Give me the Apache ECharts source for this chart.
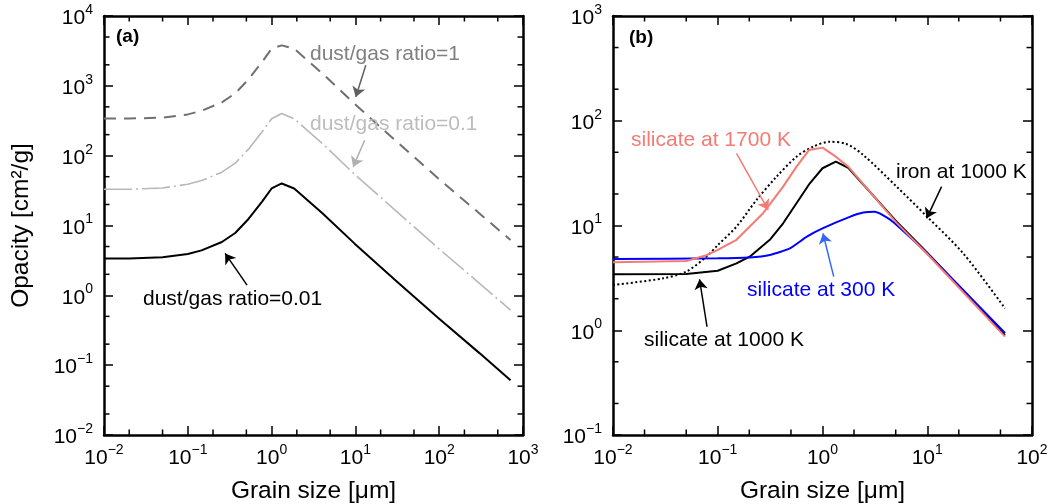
<!DOCTYPE html>
<html>
<head>
<meta charset="utf-8">
<script src="https://cdn.jsdelivr.net/npm/echarts@6/dist/echarts.min.js"></script>
<style>
  html, body { margin: 0; padding: 0; background: #fff; }
  #chart { width: 1053px; height: 504px; }
</style>
</head>
<body>
<div id="chart"></div>
<script>
// panel (a): opacity vs grain size for three dust/gas ratios
const sizeA = [0.01, 0.02, 0.05, 0.1, 0.146, 0.255, 0.368, 0.533, 0.77, 1.0, 1.32, 1.86, 4.07, 9.8, 30, 96, 300, 710];
const ratio001 = [3.37, 3.37, 3.5, 3.9, 4.4, 5.8, 7.8, 12.5, 22, 33.9, 40, 33.9, 14.9, 5.5, 1.65, 0.48, 0.15, 0.061];
const ratio01 = [33, 33, 34.5, 39, 44, 58, 78, 125, 220, 338, 401, 338, 148, 54, 16.5, 4.8, 1.5, 0.615];
const ratio1 = [340, 340, 350, 390, 440, 580, 780, 1250, 2200, 3400, 3800, 3400, 1490, 550, 165, 48, 15, 6.2];

// panel (b): silicate at three temperatures and iron
const sizeSil1000 = [0.01, 0.05, 0.1, 0.151, 0.202, 0.314, 0.421, 0.757, 1.0, 1.34, 1.76, 5.1, 10, 55.2];
const sil1000 = [3.42, 3.44, 3.7, 4.35, 5.04, 7.3, 10.5, 25.3, 35.2, 40.7, 35.6, 10.9, 5.5, 0.9];
const sizeSil1700 = [0.01, 0.05, 0.078, 0.1, 0.151, 0.271, 0.421, 0.565, 0.746, 1.0, 1.34, 1.76, 5.1, 10, 55.2];
const sil1700 = [4.45, 4.58, 5.2, 5.84, 7.3, 13.1, 23.5, 36.5, 52.6, 55.4, 45.4, 36.5, 10.6, 5.35, 0.87];
const sizeSil300 = [0.01, 0.1, 0.202, 0.314, 0.488, 0.703, 1.0, 1.82, 2.45, 3.16, 4.24, 5.1, 10, 55.2];
const sil300 = [4.79, 4.86, 4.96, 5.23, 6.05, 7.8, 9.4, 12.1, 13.3, 13.5, 11.7, 10.1, 5.4, 0.94];
const sizeIron = [0.01, 0.03, 0.05, 0.078, 0.1, 0.151, 0.234, 0.364, 0.565, 0.815, 1.17, 1.69, 2.45, 5.1, 10, 22.1, 55.2];
const iron1000 = [2.7, 3.13, 3.63, 5.04, 6.5, 9.75, 17.5, 29.2, 45.4, 56.6, 63, 60, 47.1, 23.5, 12.1, 5.4, 1.62];

// axis ranges and minor ticks (2 and 5 in each decade)
const rangeXA = [0.01, 1000], rangeYA = [0.01, 10000];
const rangeXB = [0.01, 100], rangeYB = [0.1, 1000];
const minorXA = [0.02, 0.05, 0.2, 0.5, 2, 5, 20, 50, 200, 500];
const minorYA = [0.02, 0.05, 0.2, 0.5, 2, 5, 20, 50, 200, 500, 2000, 5000];
const minorXB = [0.02, 0.05, 0.2, 0.5, 2, 5, 20, 50];
const minorYB = [0.2, 0.5, 2, 5, 20, 50, 200, 500];

const F = '"Liberation Sans", Arial, Helvetica, sans-serif';
const pair = (xs, ys) => xs.map((x, i) => [x, ys[i]]);
const expLabel = v => {
  const e = Math.round(Math.log10(v));
  return '{b|10}{s|' + String(e).replace('-', '\u2212') + '}';
};

const labelRich = {
  b: { fontSize: 21, fontFamily: F, color: '#000', lineHeight: 26, verticalAlign: 'bottom' },
  s: { fontSize: 14, fontFamily: F, color: '#000', lineHeight: 14, verticalAlign: 'top' }
};

// axis index of each panel's bottom / left axis (the top / right mirror is +1)
const AX = [0, 2];

function logAxis(gridIndex, position, range, withLabels, name, nameGap) {
  return {
    type: 'log', logBase: 10, gridIndex: gridIndex, position: position,
    min: range[0], max: range[1],
    splitLine: { show: false },
    axisLine: { show: true, onZero: false, lineStyle: { color: '#000', width: 2.5 } },
    axisTick: { show: true, inside: true, length: 9, lineStyle: { color: '#000', width: 1.5 } },
    axisLabel: { show: withLabels, margin: position === 'left' ? 11 : 8, formatter: expLabel, rich: labelRich },
    name: name || '', nameLocation: 'middle', nameGap: nameGap || 0,
    nameTextStyle: { fontFamily: F, fontSize: 24.5, color: '#000' }
  };
}

// minor tick marks drawn on all four sides through the axes' own coordinates
function minorTicks(panel, dir, values, xr, yr) {
  return {
    type: 'custom', xAxisIndex: AX[panel], yAxisIndex: AX[panel], silent: true, clip: false, z: 10,
    data: values.map(v => dir === 'x' ? [v, yr[0]] : [xr[0], v]),
    renderItem: function (params, api) {
      const v = api.value(dir === 'x' ? 0 : 1);
      const st = { stroke: '#000', lineWidth: 1.5 };
      const L = 5.5;
      if (dir === 'x') {
        const a = api.coord([v, yr[0]]), b = api.coord([v, yr[1]]);
        return { type: 'group', children: [
          { type: 'line', shape: { x1: a[0], y1: a[1], x2: a[0], y2: a[1] - L }, style: st },
          { type: 'line', shape: { x1: b[0], y1: b[1], x2: b[0], y2: b[1] + L }, style: st }
        ] };
      }
      const a = api.coord([xr[0], v]), b = api.coord([xr[1], v]);
      return { type: 'group', children: [
        { type: 'line', shape: { x1: a[0], y1: a[1], x2: a[0] + L, y2: a[1] }, style: st },
        { type: 'line', shape: { x1: b[0], y1: b[1], x2: b[0] - L, y2: b[1] }, style: st }
      ] };
    }
  };
}

function lineSeries(panel, data, color, width, type, smooth, arrows) {
  const s = {
    type: 'line', xAxisIndex: AX[panel], yAxisIndex: AX[panel], data: data,
    symbol: 'none', smooth: smooth, z: 3,
    lineStyle: { color: color, width: width, type: type }
  };
  if (arrows) {
    s.markLine = {
      silent: true, symbol: ['none', 'arrow'], symbolSize: 10, animation: false,
      label: { show: false },
      lineStyle: { type: 'solid', width: 1.5, color: arrows.color },
      data: [[{ coord: arrows.from }, { coord: arrows.to }]]
    };
  }
  return s;
}

function txt(x, y, text, color, size, weight) {
  return {
    type: 'text', x: x, y: y, z: 20,
    style: {
      text: text, fill: color, font: (weight || 'normal') + ' ' + size + 'px ' + F,
      verticalAlign: 'middle', textVerticalAlign: 'middle'
    }
  };
}

const chart = echarts.init(document.getElementById('chart'));

const option = {
  animation: false,
  backgroundColor: '#fff',
  grid: [
    { left: 104, top: 16, width: 419, height: 419, outerBoundsMode: 'none' },
    { left: 613, top: 16, width: 419, height: 419, outerBoundsMode: 'none' }
  ],
  xAxis: [
    logAxis(0, 'bottom', rangeXA, true, 'Grain size [\u03bcm]', 44),
    logAxis(0, 'top', rangeXA, false),
    logAxis(1, 'bottom', rangeXB, true, 'Grain size [\u03bcm]', 44),
    logAxis(1, 'top', rangeXB, false)
  ],
  yAxis: [
    logAxis(0, 'left', rangeYA, true, 'Opacity [cm\u00b2/g]', 70),
    logAxis(0, 'right', rangeYA, false),
    logAxis(1, 'left', rangeYB, true),
    logAxis(1, 'right', rangeYB, false)
  ],
  series: [
    lineSeries(0, pair(sizeA, ratio1), '#707070', 2, [12, 8], false,
      { color: '#606060', from: [13.3, 1968], to: [10.1, 693] }),
    lineSeries(0, pair(sizeA, ratio01), '#b8b8b8', 1.6, [28, 4, 2, 4], false,
      { color: '#b0b0b0', from: [12.9, 166], to: [9.4, 69] }),
    lineSeries(0, pair(sizeA, ratio001), '#000', 2, 'solid', false,
      { color: '#000', from: [0.509, 1.4], to: [0.279, 3.98] }),
    lineSeries(1, pair(sizeIron, iron1000), '#000', 2, [2, 2.5], 0.3,
      { color: '#000', from: [13.7, 23.5], to: [9.86, 11.7] }),
    lineSeries(1, pair(sizeSil1000, sil1000), '#000', 2, 'solid', false,
      { color: '#000', from: [0.079, 1.08], to: [0.067, 3.06] }),
    lineSeries(1, pair(sizeSil300, sil300), '#0000ff', 2, 'solid', 0.2,
      { color: '#3366ff', from: [1.28, 3.25], to: [1.01, 8.4] }),
    lineSeries(1, pair(sizeSil1700, sil1700), '#f47b74', 2, 'solid', false,
      { color: '#f47b74', from: [0.151, 48.9], to: [0.303, 14.1] }),
    minorTicks(0, 'x', minorXA, rangeXA, rangeYA),
    minorTicks(0, 'y', minorYA, rangeXA, rangeYA),
    minorTicks(1, 'x', minorXB, rangeXB, rangeYB),
    minorTicks(1, 'y', minorYB, rangeXB, rangeYB)
  ],
  graphic: [
    txt(116, 37, '(a)', '#000', 19, 'bold'),
    txt(310, 54, 'dust/gas ratio=1', '#808080', 21),
    txt(310, 124, 'dust/gas ratio=0.1', '#bdbdbd', 21),
    txt(143, 299, 'dust/gas ratio=0.01', '#000', 21),
    txt(629, 38, '(b)', '#000', 19, 'bold'),
    txt(631, 140, 'silicate at 1700 K', '#f47b74', 21),
    txt(896, 172, 'iron at 1000 K', '#000', 21),
    txt(747, 290, 'silicate at 300 K', '#0000ff', 21),
    txt(644, 340, 'silicate at 1000 K', '#000', 21)
  ]
};

chart.setOption(option);

window.addEventListener('resize', function () {
  chart.resize();
});
</script>
</body>
</html>
